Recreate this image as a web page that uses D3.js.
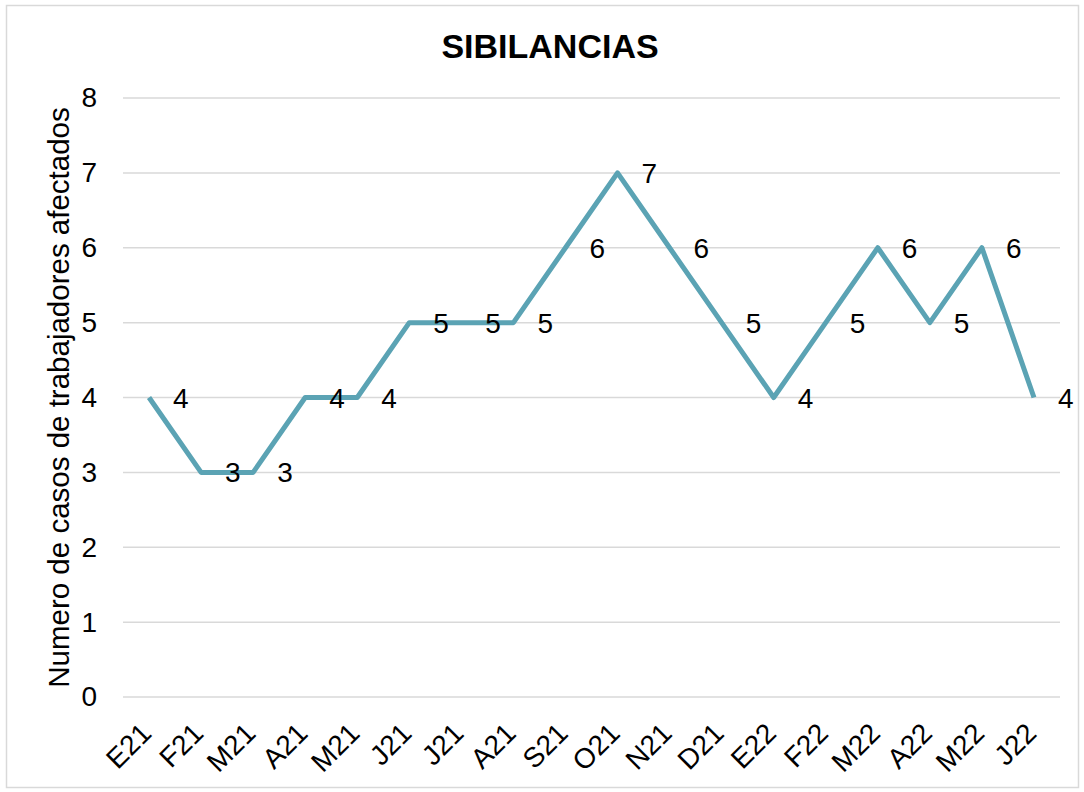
<!DOCTYPE html>
<html>
<head>
<meta charset="utf-8">
<script src="https://cdn.jsdelivr.net/npm/d3@7"></script>
<style>
  body { margin: 0; background: #fff; }
  text { font-family: "Liberation Sans", Arial, sans-serif; }
</style>
</head>
<body>
<div id="chart"></div>
<script>
const months = ["E21", "F21", "M21", "A21", "M21", "J21", "J21", "A21", "S21", "O21", "N21", "D21", "E22", "F22", "M22", "A22", "M22", "J22"];
const cases = [4, 3, 3, 4, 4, 5, 5, 5, 6, 7, 6, 5, 4, 5, 6, 5, 6, 4];
const yTicks = [0, 1, 2, 3, 4, 5, 6, 7, 8];

const width = 1084, height = 792;
const margin = { top: 98, right: 24, bottom: 95, left: 123 };
const innerW = 1060 - margin.left;
const innerH = 697 - margin.top;
const fontSize = 28;

const svg = d3.select("#chart")
    .append("svg")
    .attr("width", width)
    .attr("height", height);

// chart border
svg.append("rect")
    .attr("x", 6.5).attr("y", 5.5)
    .attr("width", 1072).attr("height", 782)
    .attr("fill", "#fff")
    .attr("stroke", "#d9d9d9")
    .attr("stroke-width", 1.5);

const g = svg.append("g")
    .attr("transform", `translate(${margin.left}, ${margin.top})`);

// use index as key since month labels repeat
const x = d3.scaleBand()
    .domain(d3.range(months.length))
    .range([0, innerW]);

const y = d3.scaleLinear()
    .domain([0, 8])
    .range([innerH, 0]);

// gridlines
g.selectAll(".grid")
    .data(yTicks)
    .join("line")
    .attr("x1", 0).attr("x2", innerW)
    .attr("y1", d => y(d)).attr("y2", d => y(d))
    .attr("stroke", "#d9d9d9")
    .attr("stroke-width", 1.5);

// y axis
const yAxis = g.append("g")
    .call(d3.axisLeft(y).tickValues(yTicks).tickSize(0).tickPadding(26));
yAxis.select(".domain").remove();
yAxis.selectAll("text")
    .style("font-size", fontSize + "px")
    .style("fill", "#000");

// x axis
const xAxis = g.append("g")
    .attr("transform", `translate(0, ${innerH})`)
    .call(d3.axisBottom(x).tickSize(0).tickFormat(i => months[i]));
xAxis.select(".domain").remove();
xAxis.selectAll("text")
    .style("font-size", fontSize + "px")
    .style("fill", "#000")
    .attr("text-anchor", "end")
    .attr("y", 0)
    .attr("dy", null)
    .attr("transform", "translate(4, 38) rotate(-45)");

// line
const line = d3.line()
    .x((d, i) => x(i) + x.bandwidth() / 2)
    .y(d => y(d));

g.append("path")
    .datum(cases)
    .attr("d", line)
    .attr("fill", "none")
    .attr("stroke", "#5ba3b4")
    .attr("stroke-width", 5)
    .attr("stroke-linejoin", "round");

// value labels
g.selectAll(".lbl")
    .data(cases)
    .join("text")
    .attr("x", (d, i) => x(i) + x.bandwidth() / 2 + 24)
    .attr("y", d => y(d) + 10)
    .style("font-size", fontSize + "px")
    .style("fill", "#000")
    .text(d => d);

// title
svg.append("text")
    .attr("x", 550).attr("y", 58)
    .attr("text-anchor", "middle")
    .style("font-size", "34px")
    .style("font-weight", "bold")
    .text("SIBILANCIAS");

// y axis title
svg.append("text")
    .attr("transform", `translate(69, ${margin.top + innerH / 2}) rotate(-90)`)
    .attr("text-anchor", "middle")
    .style("font-size", "29.5px")
    .text("Numero de casos de trabajadores afectados");
</script>
</body>
</html>
